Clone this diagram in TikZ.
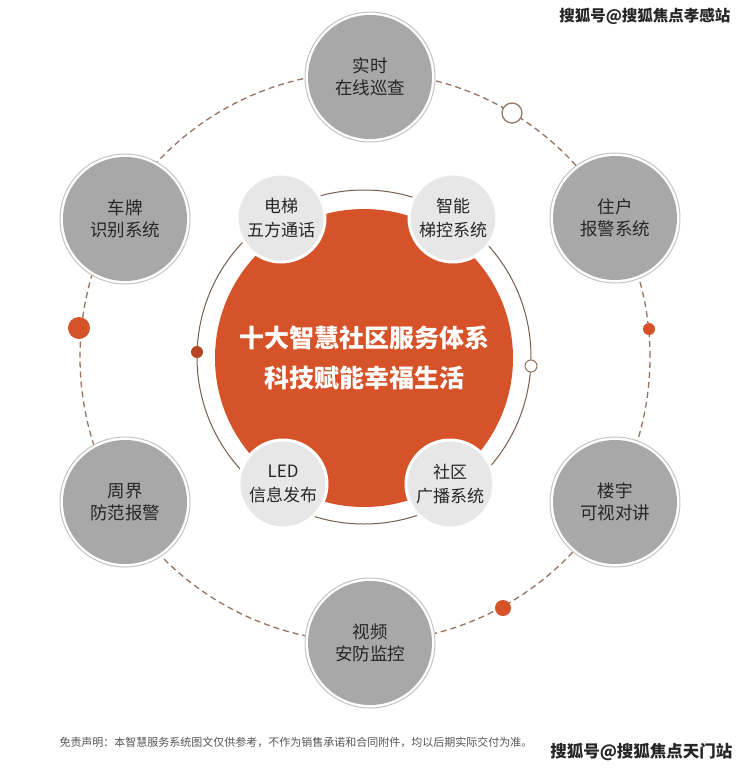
\documentclass[tikz,border=0pt]{standalone}
\usepackage{fontspec}
\setmainfont{Noto Sans CJK SC}
\definecolor{coreorange}{RGB}{214,82,40}
\definecolor{ballgray}{RGB}{168,168,168}
\definecolor{ringgray}{RGB}{196,196,196}
\definecolor{palegray}{RGB}{231,231,231}
\definecolor{orbitbrown}{RGB}{150,115,95}
\definecolor{inkgray}{RGB}{38,38,38}
\definecolor{notegray}{RGB}{85,85,85}

\begin{document}
\begin{tikzpicture}[x=1pt,y=-1pt,
    sysball/.style={circle,fill=ballgray,minimum size=124pt,inner sep=0pt,
      align=center,text=inkgray,font=\fontsize{17.5}{22}\selectfont},
    ballring/.style={draw=ringgray,fill=white,line width=1pt},
    subball/.style={circle,fill=palegray,draw=white,line width=3pt,
      minimum size=88pt,inner sep=0pt,align=center,text=inkgray,
      font=\fontsize{17}{24}\selectfont},
    coreball/.style={circle,fill=coreorange,minimum size=298pt,inner sep=0pt,
      align=center,text=white,font=\fontsize{25}{40}\selectfont\bfseries},
    orbitline/.style={orbitbrown,line width=1.3pt,dash pattern=on 6pt off 4pt},
    ringline/.style={orbitbrown!80!black,line width=1pt},
    solidspot/.style={fill=coreorange},
    hollowspot/.style={draw=orbitbrown,fill=white,line width=1.2pt}]
  \useasboundingbox (0,0) rectangle (740,769);
  \fill[white] (0,0) rectangle (740,769);

  % dashed orbit with its spots
  \coordinate (hub) at (365,357);
  \draw[orbitline] (hub) circle (285pt);
  \fill[solidspot] (79,328) circle (11pt);
  \fill[solidspot] (649,329) circle (6pt);
  \fill[solidspot] (503,608) circle (8pt);
  \draw[hollowspot] (512,113) circle (10pt);

  % centre
  \node[coreball] (core) at (364,358) {十大智慧社区服务体系\\科技赋能幸福生活};
  \coordinate (ringc) at (364,357);
  \draw[ringline] (ringc) circle (167pt);
  \fill[solidspot,fill=coreorange!85!black] (197,352) circle (6pt);
  \draw[hollowspot,line width=1pt] (531,366) circle (6pt);

  \node[subball] (lift) at (281,218) {电梯\\五方通话};
  \node[subball] (liftctl) at (453,218) {智能\\梯控系统};
  \node[subball] (led) at (283,484) {LED\\信息发布};
  \node[subball] (radio) at (450,484) {社区\\广播系统};

  % six systems on the orbit
  \foreach \n/\p/\t in {patrol/{(370,77)}/实时\\在线巡查,
                        plate/{(125,219)}/车牌\\识别系统,
                        alarm/{(615,218)}/住户\\报警系统,
                        fence/{(125,502)}/周界\\防范报警,
                        intercom/{(615,502)}/楼宇\\可视对讲,
                        video/{(370,643)}/视频\\安防监控}
  {
    \draw[ballring] \p circle (65pt);
    \node[sysball] (\n) at \p {\t};
  }

  \node[text=notegray,font=\fontsize{11}{13}\selectfont] (note) at (296,742)
    {免责声明：本智慧服务系统图文仅供参考，不作为销售承诺和合同附件，均以后期实际交付为准。};
  \node[text=inkgray,font=\fontsize{15.5}{18}\selectfont\bfseries,anchor=east] (mark) at (734,16)
    {搜狐号@搜狐焦点孝感站};
  \node[text=inkgray,font=\fontsize{16.5}{19}\selectfont\bfseries,anchor=east] (mark2) at (736,752)
    {搜狐号@搜狐焦点天门站};
\end{tikzpicture}
\end{document}
